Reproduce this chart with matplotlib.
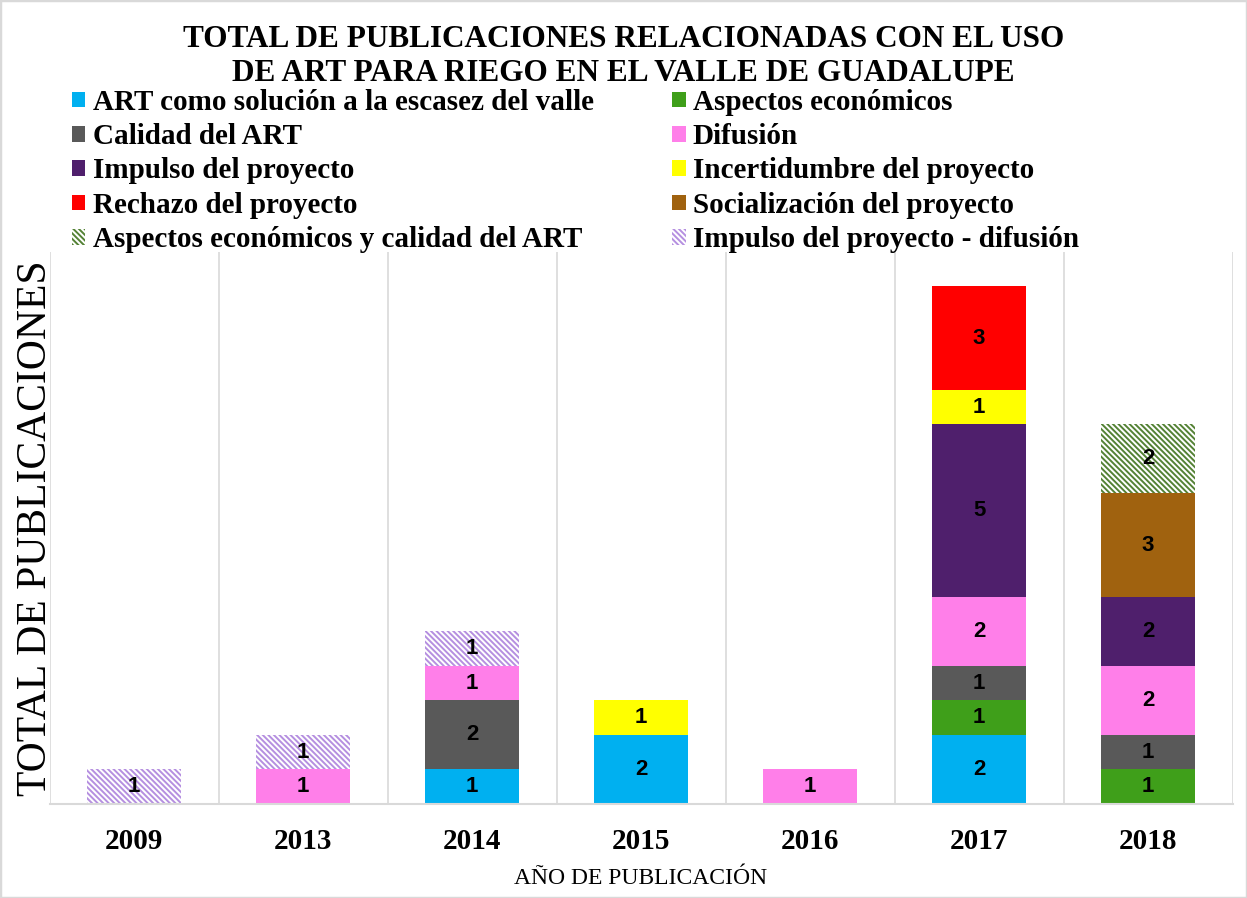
import numpy as np
import matplotlib
matplotlib.use("Agg")
import matplotlib.pyplot as plt
from matplotlib.patches import Rectangle

# data
years = ["2009", "2013", "2014", "2015", "2016", "2017", "2018"]

art_solucion   = [0, 0, 1, 2, 0, 2, 0]
aspectos_econ  = [0, 0, 0, 0, 0, 1, 1]
calidad_art    = [0, 0, 2, 0, 0, 1, 1]
difusion       = [0, 1, 1, 0, 1, 2, 2]
impulso        = [0, 0, 0, 0, 0, 5, 2]
incertidumbre  = [0, 0, 0, 1, 0, 1, 0]
rechazo        = [0, 0, 0, 0, 0, 3, 0]
socializacion  = [0, 0, 0, 0, 0, 0, 3]
econ_calidad   = [0, 0, 0, 0, 0, 0, 2]
impulso_difus  = [1, 1, 1, 0, 0, 0, 0]

series = [
    ("ART como solución a la escasez del valle", art_solucion, "#00B0F0", None),
    ("Aspectos económicos", aspectos_econ, "#3F9F1A", None),
    ("Calidad del ART", calidad_art, "#595959", None),
    ("Difusión", difusion, "#FF7FE9", None),
    ("Impulso del proyecto", impulso, "#4F1F6C", None),
    ("Incertidumbre del proyecto", incertidumbre, "#FFFF00", None),
    ("Rechazo del proyecto", rechazo, "#FF0000", None),
    ("Socialización del proyecto", socializacion, "#A0620F", None),
    ("Aspectos económicos y calidad del ART", econ_calidad, "#548235", "\\" * 6),
    ("Impulso del proyecto - difusión", impulso_difus, "#B58FE0", "\\" * 6),
]

plt.rcParams["hatch.linewidth"] = 1.4
serif = "Liberation Serif"

fig = plt.figure(figsize=(12.47, 8.98), dpi=100)
ax = fig.add_axes([0.0397, 0.1047, 0.9487, 0.6147])

x = np.arange(len(years))
bottom = np.zeros(len(years))
handles = []
for name, vals, color, hatch in series:
    vals = np.array(vals, dtype=float)
    if hatch:
        bars = ax.bar(x, vals, 0.56, bottom=bottom, facecolor="white",
                      edgecolor=color, hatch=hatch, linewidth=0, label=name)
    else:
        bars = ax.bar(x, vals, 0.56, bottom=bottom, color=color,
                      linewidth=0, label=name)
    labels = [str(int(v)) if v > 0 else "" for v in vals]
    ax.bar_label(bars, labels=labels, label_type="center",
                 fontfamily="Liberation Sans", fontweight="bold",
                 fontsize=16, color="black")
    handles.append(bars)
    bottom += vals

ax.set_xlim(-0.5, len(years) - 0.5)
ax.set_ylim(0, 16)
ax.set_yticks([])
ax.set_xticks(x)
ax.set_xticklabels(years, fontfamily=serif, fontweight="bold", fontsize=21)
ax.tick_params(axis="x", length=0, pad=17)
ax.set_xticks(np.arange(-0.5, len(years)), minor=True)
ax.tick_params(axis="x", which="minor", length=0)
ax.grid(True, axis="x", which="minor", color="#D9D9D9", linewidth=1.2)
ax.set_axisbelow(True)
for s in ["top", "left", "right"]:
    ax.spines[s].set_visible(False)
ax.spines["bottom"].set_color("#D9D9D9")
ax.spines["bottom"].set_linewidth(1.5)

ax.set_xlabel("AÑO DE PUBLICACIÓN", fontfamily=serif, fontsize=17, labelpad=10)
ax.set_ylabel("TOTAL DE PUBLICACIONES", fontfamily=serif, fontsize=30, labelpad=-4)

fig.text(0.5, 0.937, "TOTAL DE PUBLICACIONES RELACIONADAS CON EL USO\nDE ART PARA RIEGO EN EL VALLE DE GUADALUPE",
         ha="center", va="center", fontfamily=serif, fontweight="bold",
         fontsize=22.5, linespacing=1.2)

# legend fills column-first, reorder so it reads row by row
order = [0, 2, 4, 6, 8, 1, 3, 5, 7, 9]
leg = fig.legend([handles[i] for i in order], [series[i][0] for i in order],
                 ncol=2, loc="upper left", bbox_to_anchor=(0.058, 0.901),
                 frameon=False, prop={"family": serif, "weight": "bold", "size": 21},
                 handlelength=0.45, handleheight=0.45, handletextpad=0.25,
                 labelspacing=0.25, columnspacing=2.7, borderpad=0, borderaxespad=0)

fig.patches.append(Rectangle((0, 0), 1, 1, transform=fig.transFigure,
                             fill=False, edgecolor="#D9D9D9", linewidth=2.5))

fig.savefig("out.png", dpi=100)
